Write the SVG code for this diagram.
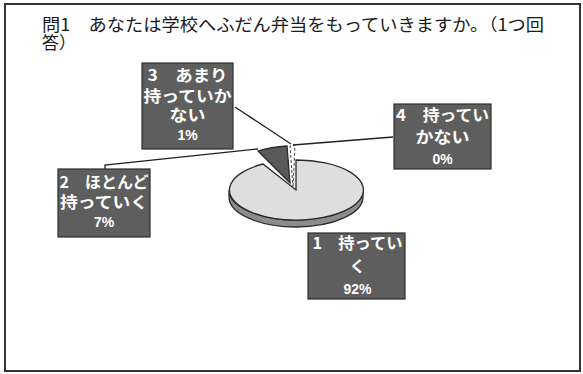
<svg xmlns="http://www.w3.org/2000/svg" width="583" height="374" viewBox="0 0 583 374">
<style>
.title{font-family:"Noto Sans CJK JP","Noto Sans",sans-serif;font-size:17px;fill:#1a1a1a}
.lbl rect{fill:#5e5e5e;stroke:#2e2e2e;stroke-width:1.2}
.lbl text{font-family:"Noto Sans CJK JP","Noto Sans",sans-serif;font-size:16px;font-weight:700;fill:#fff;text-anchor:middle}
.lbl text.pct{font-family:"Liberation Sans",sans-serif;font-size:14px}
.conn line,.conn polyline{stroke:#222;stroke-width:1.3;fill:none}
.pie{stroke:#2a2a2a;stroke-width:1.3}
</style>
<rect x="0" y="0" width="583" height="374" fill="#fff"/>
<rect x="5" y="4" width="575" height="367" fill="none" stroke="#333" stroke-width="2"/>
<g id="title">
<text class="title" x="42" y="31" textLength="502" lengthAdjust="spacingAndGlyphs">問1　あなたは学校へふだん弁当をもっていきますか。（1つ回</text>
<text class="title" x="42" y="49">答）</text>
</g>
<g id="pie">
<path class="pie" d="M363,190 A67 30 0 0 1 229,190 L229,197 A67 30 0 0 0 363,197 Z" fill="#8c8c8c"/>
<path class="pie" d="M296,190 L296,160 A67 30 0 1 1 263,164 Z" fill="#dedede"/>
<path class="pie" d="M290,183 L258,151 A67 30 0 0 1 287,146 Z" fill="#5a5a5a"/>
<path d="M293,188 L290,146 L295,145 Z" fill="#fff" stroke="#444" stroke-width="1" stroke-dasharray="3 2"/>
</g>
<g class="conn" id="connectors">
<line x1="235" y1="107" x2="291" y2="144"/>
<line x1="393" y1="137" x2="293" y2="145"/>
<polyline points="105,169 105,165 258,149"/>
</g>
<g class="lbl" id="label3">
<rect x="142" y="63" width="91" height="86"/>
<text x="187.5" y="81" textLength="80" lengthAdjust="spacingAndGlyphs">3　あまり</text>
<text x="187.5" y="102" textLength="88" lengthAdjust="spacingAndGlyphs">持っていか</text>
<text x="187.5" y="121" textLength="36" lengthAdjust="spacingAndGlyphs">ない</text>
<text class="pct" x="187.5" y="140">1%</text>
</g>
<g class="lbl" id="label4">
<rect x="394" y="104" width="97" height="65"/>
<text x="442.5" y="121" textLength="93" lengthAdjust="spacingAndGlyphs">4　持ってい</text>
<text x="442.5" y="143" textLength="54" lengthAdjust="spacingAndGlyphs">かない</text>
<text class="pct" x="442.5" y="164">0%</text>
</g>
<g class="lbl" id="label2">
<rect x="58" y="169" width="92" height="68"/>
<text x="104" y="188" textLength="89" lengthAdjust="spacingAndGlyphs">2　ほとんど</text>
<text x="104" y="208" textLength="88" lengthAdjust="spacingAndGlyphs">持っていく</text>
<text class="pct" x="104" y="227">7%</text>
</g>
<g class="lbl" id="label1">
<rect x="308" y="233" width="97" height="66"/>
<text x="357.5" y="249" textLength="90" lengthAdjust="spacingAndGlyphs">1　持ってい</text>
<text x="357.5" y="272">く</text>
<text class="pct" x="357.5" y="294">92%</text>
</g>
</svg>
